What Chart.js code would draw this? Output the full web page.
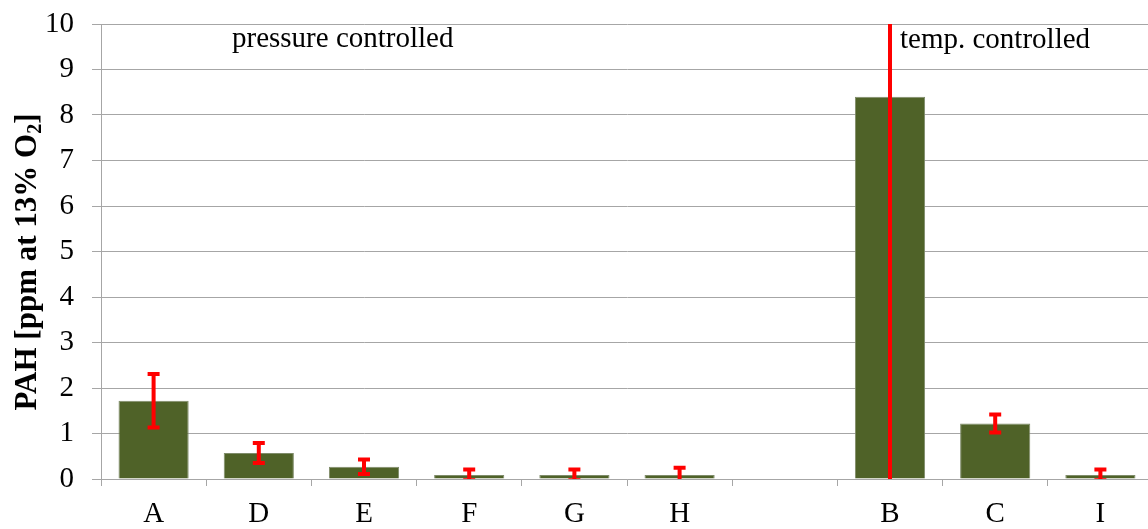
<!DOCTYPE html>
<html>
<head>
<meta charset="utf-8">
<script src="https://cdn.jsdelivr.net/npm/chart.js@4/dist/chart.umd.min.js"></script>
<style>
  html, body { margin: 0; padding: 0; background: #fff; overflow: hidden; }
  #wrap { width: 1148px; height: 529px; overflow: hidden; }
</style>
</head>
<body>
<div id="wrap"><canvas id="c" width="1153" height="529"></canvas></div>
<script>
// Categories (empty slot separates the two control groups)
const categories = ['A', 'D', 'E', 'F', 'G', 'H', '', 'B', 'C', 'I'];
// Mean PAH concentration, ppm at 13% O2
const pahValues = [1.72, 0.57, 0.27, 0.09, 0.09, 0.09, null, 8.40, 1.22, 0.09];
// Symmetric error (± value)
const pahErrors = [0.59, 0.22, 0.16, 0.12, 0.12, 0.16, null, 9.00, 0.20, 0.12];
// Y tick values
const yTicks = [0, 1, 2, 3, 4, 5, 6, 7, 8, 9, 10];

const FONT = "'Liberation Serif', 'Times New Roman', serif";
const GRID = '#A6A6A6';
const FS = 29;

// Error bars drawn on top of each bar, clipped to the plot area
const errorBars = {
  id: 'errorBars',
  afterDatasetsDraw(chart) {
    const { ctx, chartArea, scales } = chart;
    const meta = chart.getDatasetMeta(0);
    ctx.save();
    ctx.beginPath();
    ctx.rect(chartArea.left, chartArea.top, chartArea.right - chartArea.left, chartArea.bottom - chartArea.top);
    ctx.clip();
    ctx.strokeStyle = '#FF0000';
    ctx.lineWidth = 4;
    meta.data.forEach((bar, i) => {
      const v = pahValues[i], e = pahErrors[i];
      if (v == null || e == null) return;
      const x = bar.x;
      const yTop = scales.y.getPixelForValue(v + e);
      const yBot = scales.y.getPixelForValue(v - e);
      const half = 6;
      ctx.beginPath();
      ctx.moveTo(x, yTop); ctx.lineTo(x, yBot);
      ctx.moveTo(x - half, yTop); ctx.lineTo(x + half, yTop);
      ctx.moveTo(x - half, yBot); ctx.lineTo(x + half, yBot);
      ctx.stroke();
    });
    ctx.restore();
  }
};

// Group annotations and rotated axis title with subscript
const labelsPlugin = {
  id: 'labelsPlugin',
  afterDraw(chart) {
    const { ctx } = chart;
    ctx.save();
    ctx.fillStyle = '#000';
    ctx.font = FS + 'px ' + FONT;
    ctx.textBaseline = 'alphabetic';
    ctx.textAlign = 'left';
    ctx.fillText('pressure controlled', 232, 47);
    ctx.fillText('temp. controlled', 900, 48);

    // Y axis title
    const main = 'PAH [ppm at 13% O';
    const sub = '2';
    const tail = ']';
    const bigFont = 'bold 31px ' + FONT;
    const smallFont = 'bold 20px ' + FONT;
    ctx.font = bigFont;
    const wMain = ctx.measureText(main).width;
    const wTail = ctx.measureText(tail).width;
    ctx.font = smallFont;
    const wSub = ctx.measureText(sub).width;
    const total = wMain + wSub + wTail;
    ctx.translate(36, 262);
    ctx.rotate(-Math.PI / 2);
    let x = -total / 2;
    ctx.font = bigFont;
    ctx.fillText(main, x, 0);
    x += wMain;
    ctx.font = smallFont;
    ctx.fillText(sub, x, 5);
    x += wSub;
    ctx.font = bigFont;
    ctx.fillText(tail, x, 0);
    ctx.restore();
  }
};

new Chart(document.getElementById('c'), {
  type: 'bar',
  data: {
    labels: categories,
    datasets: [{
      data: pahValues,
      backgroundColor: '#4F6228',
      borderColor: '#7F8C6A',
      borderWidth: 1,
      categoryPercentage: 1.0,
      barPercentage: 0.667
    }]
  },
  options: {
    responsive: false,
    animation: false,
    layout: { padding: { top: 24, right: 0, left: 0, bottom: 0 } },
    plugins: { legend: { display: false }, tooltip: { enabled: false } },
    scales: {
      x: {
        offset: true,
        grid: {
          offset: true,
          drawOnChartArea: false,
          drawTicks: true,
          tickLength: 7,
          color: GRID
        },
        border: { color: GRID, width: 1 },
        ticks: { color: '#000', font: { family: FONT, size: FS }, padding: 11, maxRotation: 0 },
        afterFit(scale) {
          scale.height = 50;
          scale.paddingLeft = 0;
          scale.paddingRight = 0;
        }
      },
      y: {
        min: 0,
        max: 10,
        afterBuildTicks(scale) { scale.ticks = yTicks.map(v => ({ value: v })); },
        grid: { color: GRID, tickLength: 9, lineWidth: 1 },
        border: { color: GRID, width: 1 },
        ticks: { color: '#000', font: { family: FONT, size: FS }, padding: 18 },
        afterFit(scale) {
          scale.width = 101;
          scale.paddingTop = 0;
          scale.paddingBottom = 0;
        }
      }
    }
  },
  plugins: [errorBars, labelsPlugin]
});
</script>
</body>
</html>
